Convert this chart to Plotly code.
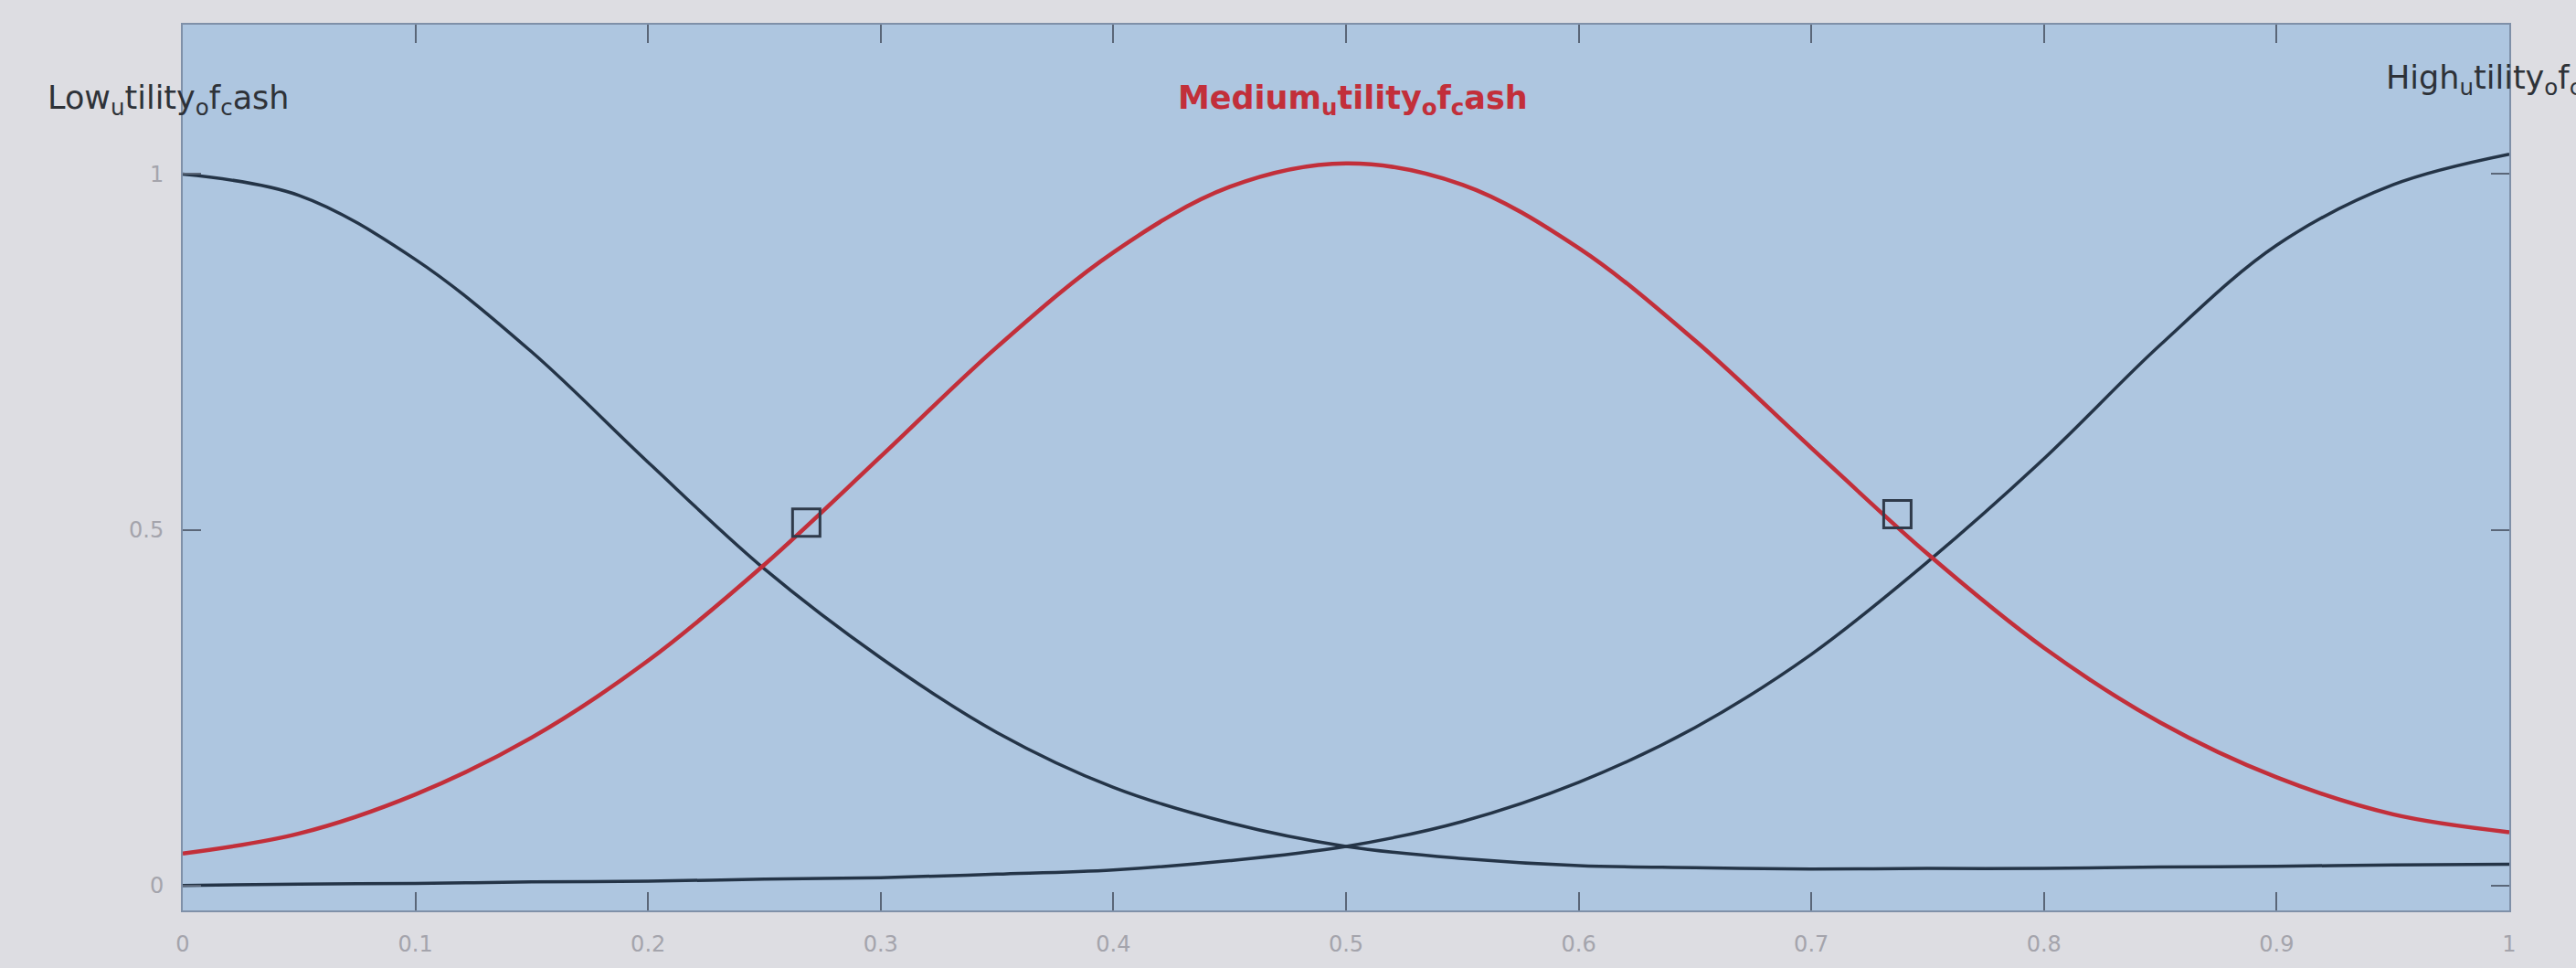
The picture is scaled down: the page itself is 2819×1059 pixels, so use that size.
import plotly.graph_objects as go

# Input variable: utility of cash, sampled every 0.05
x_vals = [0.00, 0.05, 0.10, 0.15, 0.20, 0.25, 0.30, 0.35, 0.40, 0.45, 0.50,
          0.55, 0.60, 0.65, 0.70, 0.75, 0.80, 0.85, 0.90, 0.95, 1.00]

# Membership degrees of the three Gaussian-shaped sets
low_mf = [1.00, 0.97, 0.88, 0.75, 0.595, 0.445, 0.32, 0.215, 0.138, 0.088, 0.055,
          0.038, 0.028, 0.025, 0.023, 0.024, 0.024, 0.026, 0.027, 0.029, 0.030]
medium_mf = [0.045, 0.073, 0.128, 0.208, 0.316, 0.451, 0.603, 0.757, 0.890, 0.982, 1.015,
             0.985, 0.896, 0.766, 0.615, 0.466, 0.334, 0.229, 0.152, 0.100, 0.075]
high_mf = [0.000, 0.002, 0.003, 0.005, 0.006, 0.009, 0.011, 0.016, 0.022, 0.035, 0.055,
           0.090, 0.145, 0.222, 0.325, 0.455, 0.600, 0.760, 0.900, 0.985, 1.028]

# Edit handles on the selected (medium) set
handle_x = [0.268, 0.737]
handle_y = [0.51, 0.522]

x_ticks = [0, 0.1, 0.2, 0.3, 0.4, 0.5, 0.6, 0.7, 0.8, 0.9, 1]
x_tick_text = ["0", "0.1", "0.2", "0.3", "0.4", "0.5", "0.6", "0.7", "0.8", "0.9", "1"]
y_ticks = [0, 0.5, 1]
y_tick_text = ["0", "0.5", "1"]

DARK = "#243447"
RED = "#c22f3a"

fig = go.Figure()
fig.add_trace(go.Scatter(x=x_vals, y=low_mf, mode="lines",
                         line=dict(color=DARK, width=3.5, shape="spline", smoothing=1.0)))
fig.add_trace(go.Scatter(x=x_vals, y=high_mf, mode="lines",
                         line=dict(color=DARK, width=3.5, shape="spline", smoothing=1.0)))
fig.add_trace(go.Scatter(x=x_vals, y=medium_mf, mode="lines",
                         line=dict(color=RED, width=4.5, shape="spline", smoothing=1.0)))
fig.add_trace(go.Scatter(x=handle_x, y=handle_y, mode="markers",
                         marker=dict(symbol="square-open", size=30, color="#2f3a4a",
                                     line=dict(width=3, color="#2f3a4a"))))

# Set names above the curves (underscores shown as subscripts)
label_font = dict(family="DejaVu Sans", size=35, color="#2e3238")
fig.add_annotation(x=-0.059, y=0.915, xref="paper", yref="paper", xanchor="left", yanchor="middle",
                   text="Low<sub>u</sub>tility<sub>o</sub>f<sub>c</sub>ash",
                   showarrow=False, font=label_font)
fig.add_annotation(x=0.503, y=0.915, xref="paper", yref="paper", xanchor="center", yanchor="middle",
                   text="<b>Medium<sub>u</sub>tility<sub>o</sub>f<sub>c</sub>ash</b>",
                   showarrow=False, font=dict(family="DejaVu Sans", size=35, color=RED))
fig.add_annotation(x=0.946, y=0.938, xref="paper", yref="paper", xanchor="left", yanchor="middle",
                   text="High<sub>u</sub>tility<sub>o</sub>f<sub>c</sub>ash",
                   showarrow=False, font=label_font)

axis_common = dict(showgrid=False, zeroline=False, showline=True, linecolor="#7f90a8",
                   linewidth=2, mirror="ticks", ticks="inside", ticklen=20, tickwidth=2,
                   tickcolor="#5a6678",
                   tickfont=dict(family="DejaVu Sans", size=24, color="#a4a4ac"))

fig.update_xaxes(range=[0, 1], tickvals=x_ticks, ticktext=x_tick_text, ticklabelstandoff=14,
                 **axis_common)
fig.update_yaxes(range=[-0.035, 1.21], tickvals=y_ticks, ticktext=y_tick_text,
                 ticklabelstandoff=14, **axis_common)

fig.update_layout(width=2819, height=1059, autosize=False,
                  margin=dict(l=200, r=73, t=27, b=59),
                  paper_bgcolor="#dddde2", plot_bgcolor="#aec6e0",
                  showlegend=False)

fig.write_html("out.html", config={"displayModeBar": False})
